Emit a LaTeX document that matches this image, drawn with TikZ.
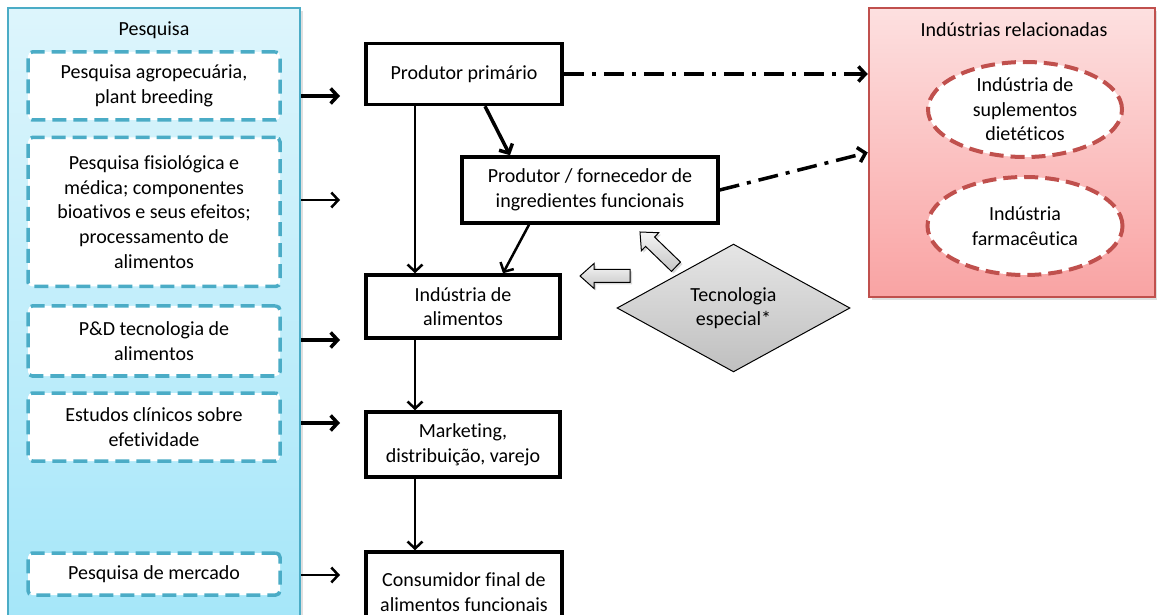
\documentclass[tikz,border=0pt]{standalone}
\usepackage{fontspec}
\setmainfont[Ligatures=NoCommon]{Carlito}
\usetikzlibrary{positioning,shapes.geometric,shadows,arrows.meta,calc}

\definecolor{pesqline}{HTML}{4BACC6}
\definecolor{pesqtop}{HTML}{DDF5FC}
\definecolor{pesqbot}{HTML}{A4E6F9}
\definecolor{relline}{HTML}{C0504D}
\definecolor{reltop}{HTML}{FDE0E0}
\definecolor{relbot}{HTML}{F9A3A3}

\tikzset{
    barrow/.pic={\draw[blk] (0,0) -- (14,12.5) -- (14,6.5) -- (50,6.5) -- (50,-6.5) -- (14,-6.5) -- (14,-12.5) -- cycle;}
}

\begin{document}
\begin{tikzpicture}[x=1pt, y=1pt,
    font=\fontsize{20}{24.6}\selectfont,
    >={Straight Barb[length=7pt,width=15pt]},
    panel/.style={rectangle, line width=2.5pt, inner sep=0pt,
        drop shadow={shadow xshift=3pt, shadow yshift=-3pt, opacity=0.25}},
    dbox/.style={rectangle, draw=pesqline, line width=3.5pt, dash pattern=on 14pt off 7pt,
        rounded corners=1.5mm, fill=white, align=center, minimum width=252pt, inner sep=0pt},
    stage/.style={rectangle, draw=black, line width=3.5pt, fill=white,
        align=center, inner sep=0pt},
    elo/.style={ellipse, draw=relline, line width=4pt, dash pattern=on 14pt off 7pt,
        fill=white, align=center, inner sep=0pt},
    tech/.style={diamond, draw=black, line width=1pt, top color=gray!20, bottom color=gray!50,
        align=center, inner sep=0pt},
    blk/.style={draw=black, line width=1pt, top color=gray!8, bottom color=gray!45,
        drop shadow={shadow xshift=2pt, shadow yshift=-2pt, opacity=0.3}},
    flow/.style={->, line width=2.5pt},
    flowb/.style={->, line width=3.5pt},
    ddot/.style={->, line width=3.5pt, dash pattern=on 20pt off 8pt on 4pt off 8pt}
]
\clip (0,0) rectangle (1157,614);

\node [panel, draw=pesqline, top color=pesqtop, bottom color=pesqbot,
    minimum width=292pt, minimum height=626pt] (pesq) at (154,293) {};
\node (pesqtit) at (154,584) {Pesquisa};
\node [dbox, minimum height=68pt] (p1) at (154,528) {Pesquisa agropecuária,\\plant breeding};
\node [dbox, minimum height=149pt] (p2) at (154,402) {Pesquisa fisiológica e\\médica; componentes\\bioativos e seus efeitos;\\processamento de\\alimentos};
\node [dbox, minimum height=70pt] (p3) at (154,273) {P\&D tecnologia de\\alimentos};
\node [dbox, minimum height=68pt] (p4) at (154,187) {Estudos clínicos sobre\\efetividade};
\node [dbox, minimum height=42pt] (p5) at (154,40) {Pesquisa de mercado};

\node [panel, draw=relline, top color=reltop, bottom color=relbot,
    minimum width=286pt, minimum height=289pt] (rel) at (1012,461.5) {};
\node (reltit) at (1014,584) {Indústrias relacionadas};
\node [elo, minimum width=194pt, minimum height=95pt] (sup) at (1025,504.5) {Indústria de\\suplementos\\dietéticos};
\node [elo, minimum width=195pt, minimum height=98pt] (farm) at (1025,388) {Indústria\\farmacêutica};

\node [stage, minimum width=196pt, minimum height=61pt] (prim) at (464,540) {Produtor primário};
\node [stage, minimum width=256pt, minimum height=66pt] (forn) at (590,424) {Produtor / fornecedor de\\ingredientes funcionais};
\node [stage, minimum width=194pt, minimum height=63pt] (ind) at (463,307.5) {Indústria de\\alimentos};
\node [stage, minimum width=194pt, minimum height=65pt] (mkt) at (463,169.5) {Marketing,\\distribuição, varejo};
\node [stage, minimum width=196pt, minimum height=80pt] (cons) at (464,22) {Consumidor final de\\alimentos funcionais};

\node [tech, minimum width=233pt, minimum height=108pt] (tec) at (733.5,306) {Tecnologia\\especial*};

\coordinate (a1) at (340,518);
\coordinate (a2) at (340,414);
\coordinate (a3) at (340,274);
\coordinate (a4) at (340,191);
\coordinate (a5) at (340,39);
\draw [flowb] (a1 -| pesq.east) -- (a1);
\draw [flow] (a2 -| pesq.east) -- (a2);
\draw [flowb] (a3 -| pesq.east) -- (a3);
\draw [flowb] (a4 -| pesq.east) -- (a4);
\draw [flow] (a5 -| pesq.east) -- (a5);

\coordinate (mx) at (415,0);
\draw [flow] (prim.south -| mx) -- (ind.north -| mx);
\draw [flowb] ($(prim.south)+(21,0)$) -- ($(forn.north)+(-80,0)$);
\draw [flow] ($(forn.south)+(-61,0)$) -- ($(ind.north)+(40,0)$);
\draw [flow] (ind.south -| mx) -- (mkt.north -| mx);
\draw [flow] (mkt.south -| mx) -- (cons.north -| mx);

\draw [ddot] (prim.east) -- (prim.east -| rel.west);
\draw [ddot] (forn.east) -- (rel.west);

\pic at (580,338) {barrow};
\pic [rotate=-44] at (640,382) {barrow};

\end{tikzpicture}
\end{document}
